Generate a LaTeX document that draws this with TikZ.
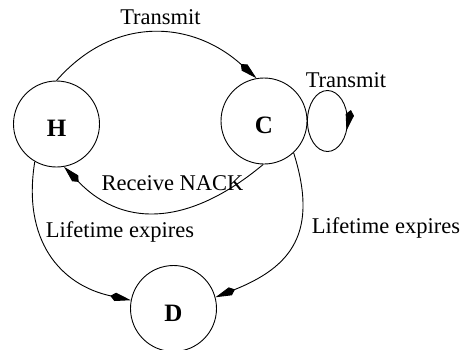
\documentclass[tikz,border=0pt]{standalone}
\usepackage{fontspec}
\setmainfont{Liberation Serif}
\usetikzlibrary{arrows.meta,decorations.markings}
\begin{document}
\begin{tikzpicture}[x=1pt,y=-1pt,
  state/.style={circle,draw,line width=0.9pt,minimum size=86pt,inner sep=0pt,
    font=\fontsize{25}{30}\selectfont\bfseries,text height=25pt,text depth=0pt},
  lbl/.style={font=\fontsize{22.5}{27}\selectfont,inner sep=0pt,anchor=base},
  edge/.style={line width=0.9pt,-{Kite[length=21pt,width=8.5pt,inset=5pt]}},
]
\useasboundingbox (0,0) rectangle (464,349);
\node[state] (H) at (56.5,124) {H};
\node[state] (C) at (264,121) {C};
\node[state] (D) at (173.5,308.5) {D};
% Transmit H -> C
\draw[edge] (H.north) .. controls (115,14) and (193,21) .. (C.100);
\node[lbl] (t1) at (160.5,24) {Transmit};
% self loop on C
\draw[line width=0.9pt,postaction={decorate},
  decoration={markings,mark=at position 0.56 with {\arrow{Kite[length=21pt,width=8.5pt,inset=5pt]}}}]
  (C.east) arc[start angle=180,end angle=540,x radius=20,y radius=30.5];
\node[lbl] (t2) at (346,87) {Transmit};
% Receive NACK C -> H
\draw[edge] (C.-91) .. controls (193,223) and (126,231) .. (H.-80);
\node[lbl] (r) at (172.5,190) {Receive NACK};
% Lifetime expires H -> D
\draw[edge] (H.-120) .. controls (22,240) and (60,285) .. (D.169);
\node[lbl] (l1) at (120,237) {Lifetime expires};
% Lifetime expires C -> D
\draw[edge] (C.-47) .. controls (319,233) and (291,267) .. (D.15);
\node[lbl] (l2) at (386,233) {Lifetime expires};
\end{tikzpicture}
\end{document}
